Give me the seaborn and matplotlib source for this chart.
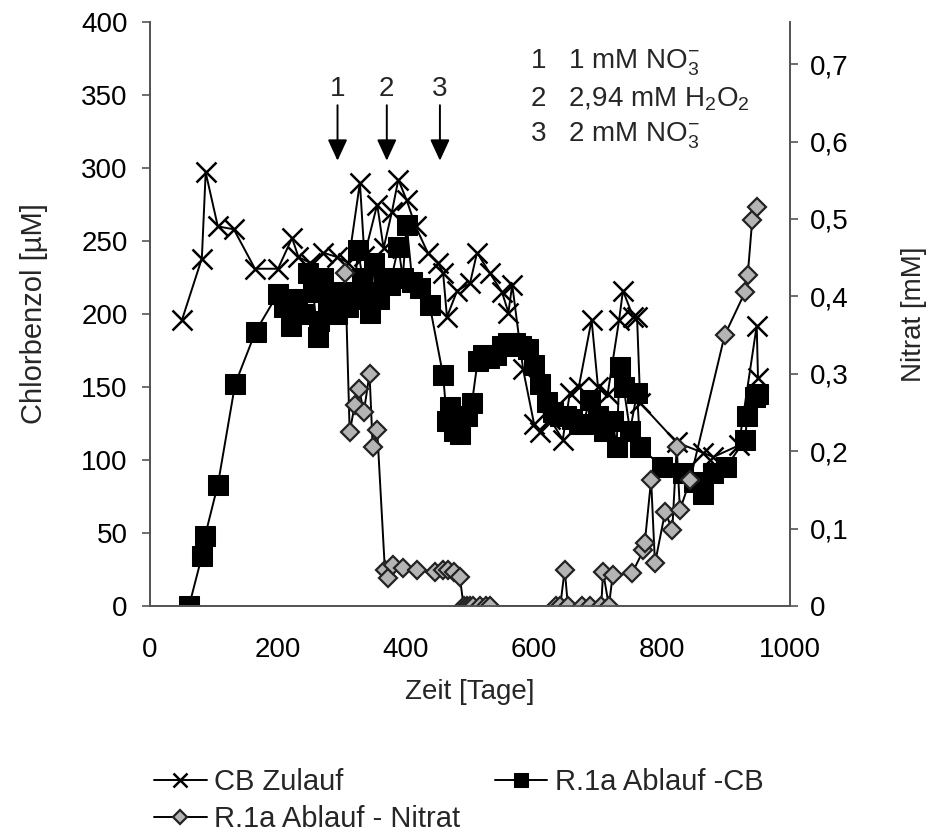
import matplotlib
matplotlib.use("Agg")
import matplotlib.pyplot as plt
import seaborn as sns
import pandas as pd
from matplotlib.ticker import FuncFormatter

sns.set_style("white")
plt.rcParams['font.family'] = ['Liberation Sans', 'DejaVu Sans']
plt.rcParams['mathtext.fontset'] = 'custom'
plt.rcParams['mathtext.rm'] = 'Liberation Sans'
plt.rcParams['mathtext.it'] = 'Liberation Sans:italic'

# ---- data ----
cb_zulauf_day = [50, 81, 87, 106, 131, 164, 200, 222, 232, 250, 271, 292, 310, 328, 335, 355,
                 365, 378, 388, 401, 415, 434, 450, 458, 464, 480, 500, 511, 531, 550, 560, 566,
                 583, 600, 609, 625, 645, 656, 670, 690, 700, 715, 733, 739, 755, 761, 766, 823,
                 864, 880, 920, 948, 950]
cb_zulauf_val = [196, 238, 297, 260, 258, 231, 231, 252, 239, 235, 242, 239, 235, 290, 240, 275,
                 245, 270, 292, 278, 260, 242, 235, 228, 198, 216, 221, 242, 228, 215, 201, 220,
                 162, 125, 119, 128, 114, 146, 150, 196, 150, 145, 196, 216, 198, 198, 139, 112,
                 105, 102, 110, 192, 156]

ablauf_cb_day = [61, 81, 86, 106, 133, 165, 200, 210, 221, 230, 240, 247, 255, 262, 264, 270,
                 278, 285, 292, 300, 310, 318, 325, 332, 338, 344, 350, 358, 365, 375, 388, 395,
                 401, 410, 422, 437, 458, 464, 469, 475, 484, 495, 503, 512, 520, 530, 540, 550,
                 560, 570, 580, 590, 600, 610, 620, 630, 640, 650, 660, 670, 677, 687, 700, 710,
                 723, 729, 734, 740, 750, 761, 766, 800, 833, 850, 864, 880, 900, 930, 933, 945, 950]
ablauf_cb_val = [0, 34, 48, 83, 152, 188, 214, 205, 192, 210, 200, 228, 215, 184, 195, 225,
                 205, 210, 200, 215, 205, 210, 244, 225, 215, 201, 235, 210, 225, 220, 246, 225,
                 261, 222, 218, 206, 158, 127, 136, 120, 118, 130, 139, 168, 172, 170, 172, 178,
                 180, 180, 178, 176, 165, 152, 140, 133, 130, 130, 128, 125, 125, 141, 130, 120,
                 127, 109, 164, 150, 120, 146, 109, 95, 91, 85, 77, 91, 95, 114, 130, 143, 145]

nitrat_day = [305, 312, 320, 327, 334, 343, 348, 355, 367, 372, 380, 395, 417, 445, 458, 466,
              475, 484, 490, 495, 500, 505, 515, 525, 531, 634, 641, 648, 653, 675, 687, 705,
              708, 717, 723, 753, 771, 773, 783, 789, 805, 816, 823, 828, 844, 898, 930, 934,
              941, 948]
nitrat_val = [0.43, 0.225, 0.26, 0.28, 0.25, 0.30, 0.205, 0.227, 0.047, 0.036, 0.053, 0.049,
              0.047, 0.044, 0.047, 0.047, 0.044, 0.038, 0.0, 0.0, 0.0, 0.0, 0.0, 0.0, 0.0, 0.0,
              0.0, 0.047, 0.0, 0.0, 0.0, 0.0, 0.044, 0.0, 0.040, 0.042, 0.072, 0.081, 0.163,
              0.055, 0.122, 0.098, 0.205, 0.124, 0.163, 0.35, 0.406, 0.428, 0.499, 0.515]

arrow_labels = ["1", "2", "3"]
arrow_days = [293, 370, 453]
note_lines = [r"1   1 mM NO$_3^{-}$", r"2   2,94 mM H$_2$O$_2$", r"3   2 mM NO$_3^{-}$"]

legend_labels = ["CB Zulauf", "R.1a Ablauf -CB", "R.1a Ablauf - Nitrat"]

df_z = pd.DataFrame({"Zeit": cb_zulauf_day, "CB": cb_zulauf_val})
df_a = pd.DataFrame({"Zeit": ablauf_cb_day, "CB": ablauf_cb_val})
df_n = pd.DataFrame({"Zeit": nitrat_day, "Nitrat": nitrat_val})

fig = plt.figure(figsize=(9.36, 8.33), dpi=100)
ax = fig.add_axes([150/936, 1-606/833, 640/936, 584/833])
ax2 = ax.twinx()

FS = 20
spine_col = "#555555"

sns.lineplot(data=df_z, x="Zeit", y="CB", ax=ax, sort=False, estimator=None,
             color="black", lw=1.4, marker="x", markersize=14, markeredgewidth=1.8,
             markeredgecolor="black", label=legend_labels[0], legend=False)
sns.lineplot(data=df_a, x="Zeit", y="CB", ax=ax, sort=False, estimator=None,
             color="black", lw=1.4, marker="s", markersize=14,
             markeredgecolor="black", markerfacecolor="black", label=legend_labels[1], legend=False)
sns.lineplot(data=df_n, x="Zeit", y="Nitrat", ax=ax2, sort=False, estimator=None,
             color="black", lw=1.4, marker="D", markersize=9.5, markeredgewidth=1.6,
             markeredgecolor="#222222", markerfacecolor="#b4b4b4", label=legend_labels[2], legend=False)

ax.set_xlim(0, 1000)
ax.set_ylim(0, 400)
ax2.set_ylim(0, 0.7545)
ax.set_xticks(range(0, 1001, 200))
ax.set_yticks(range(0, 401, 50))
ax2.set_yticks([i/10 for i in range(8)])
ax2.yaxis.set_major_formatter(FuncFormatter(lambda v, p: "0" if v == 0 else f"{v:.1f}".replace(".", ",")))

for a in (ax, ax2):
    for s in a.spines.values():
        s.set_color(spine_col)
        s.set_linewidth(1.3)
    a.spines["top"].set_visible(False)
    a.tick_params(labelsize=FS, colors="black", length=6, width=1.2, color=spine_col, direction="out")
ax.tick_params(axis="x", pad=16)
ax.tick_params(axis="y", pad=10)
ax2.tick_params(axis="y", pad=8)
ax.set_xlabel("Zeit [Tage]", fontsize=FS, labelpad=12)
ax.set_ylabel("Chlorbenzol [µM]", fontsize=21, labelpad=24)
ax2.set_ylabel("Nitrat [mM]", fontsize=20, labelpad=38)
ax.grid(False); ax2.grid(False)

for lab, d in zip(arrow_labels, arrow_days):
    ax.annotate("", xy=(d, 305), xytext=(d, 343),
                arrowprops=dict(arrowstyle="-|>,head_length=1.3,head_width=0.6",
                                color="black", lw=1.4, shrinkA=0, shrinkB=0))
    ax.text(d, 345, lab, ha="center", va="bottom", fontsize=FS)

for i, t in enumerate(note_lines):
    ax.text(594, 372 - i*25, t, ha="left", va="center", fontsize=FS)

h1, l1 = ax.get_legend_handles_labels()
h2, l2 = ax2.get_legend_handles_labels()
handles = [h1[0], h2[0], h1[1]]
labels = [l1[0], l2[0], l1[1]]
fig.legend(handles, labels, loc="upper left", bbox_to_anchor=(154/936, 1-768/833),
           ncol=2, frameon=False, fontsize=21, handlelength=1.8, handletextpad=0.25,
           columnspacing=1.2, labelspacing=0.3, borderaxespad=0, borderpad=0,
           markerscale=0.75)

fig.savefig("out.png", dpi=100)
